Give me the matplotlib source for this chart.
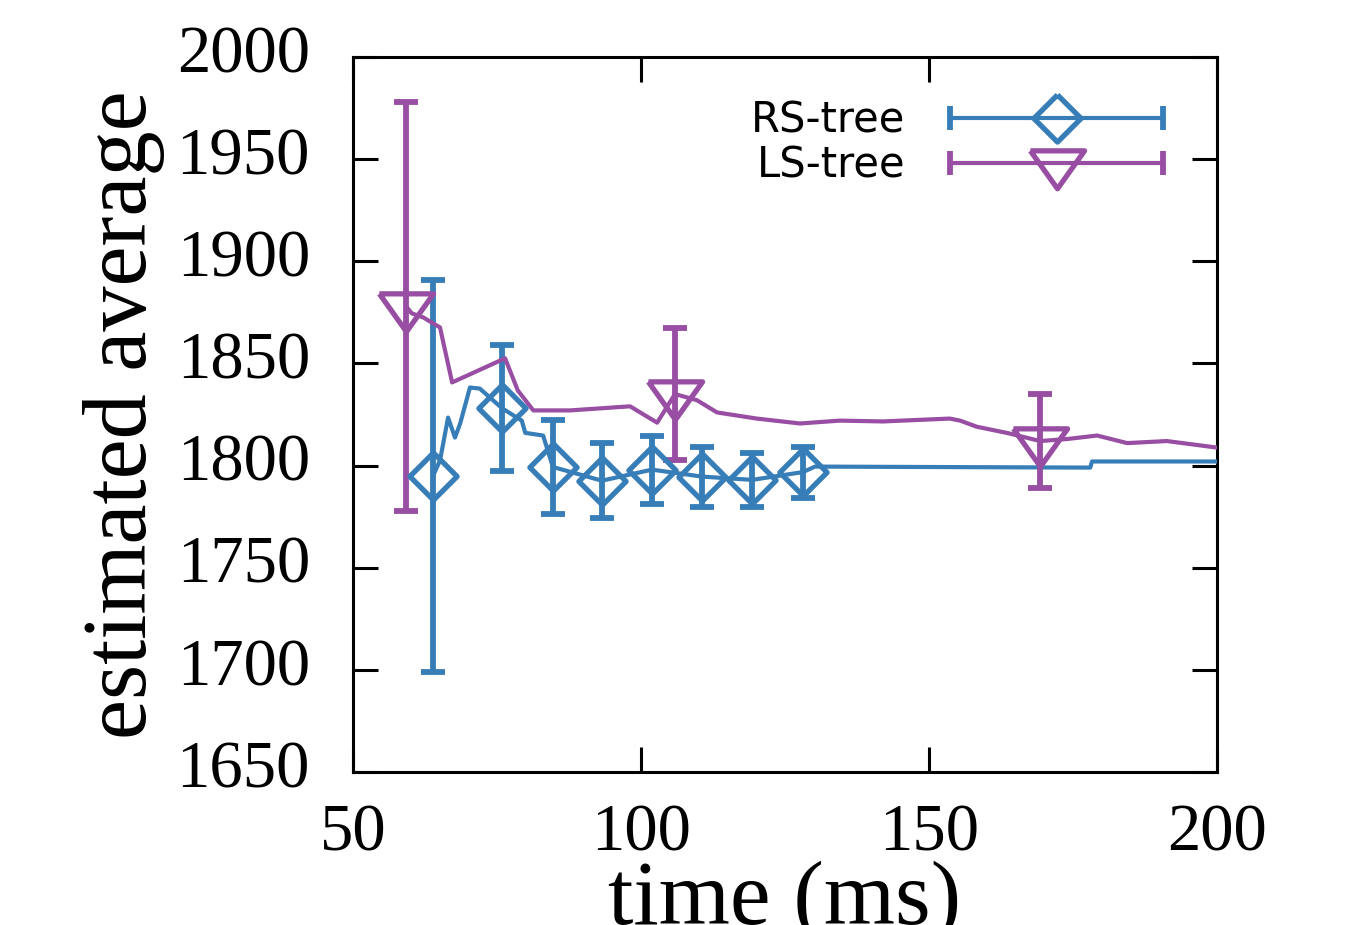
import numpy as np
import matplotlib.pyplot as plt
import matplotlib.transforms as mtransforms
from matplotlib.lines import Line2D
from matplotlib.legend_handler import HandlerLine2D, HandlerTuple

# RS-tree: running estimate (line) and the points with error bars
rs_t = [63.9, 65.1, 66.5, 67.7, 68.6, 70.3, 72.0, 75.9, 79.3, 79.9, 83.0,
        84.7, 93.2, 101.9, 110.6, 119.3, 128.1, 130.2, 178.0, 178.3, 200.0]
rs_avg = [1795, 1802.5, 1823.5, 1813.7, 1820.6, 1838.2, 1837.7, 1828, 1822,
          1816, 1814.7, 1799.3, 1792.6, 1798, 1794.6, 1793, 1796.8, 1799.5,
          1799, 1802, 1802]
rs_mt = [63.9, 75.9, 84.7, 93.2, 101.9, 110.6, 119.3, 128.1]
rs_mavg = [1795, 1828, 1799.3, 1792.6, 1798, 1794.6, 1793, 1796.8]
rs_err = [96, 30.9, 22.8, 18.4, 16.7, 14.7, 13.2, 12.5]

# LS-tree
ls_t = [59.2, 60.2, 62.2, 65.1, 67.2, 76.4, 78.6, 81.3, 87.7, 98.1, 102.8,
        105.9, 109.7, 113.2, 120.1, 127.6, 134.5, 142.0, 153.6, 155.4, 158.3,
        163.5, 169.3, 174.0, 179.2, 184.4, 191.3, 200.0]
ls_avg = [1878, 1874.5, 1872.5, 1867.6, 1840.7, 1852.5, 1836.8, 1827, 1827,
          1829, 1821, 1835, 1832, 1826, 1823, 1820.6, 1822, 1821.6, 1823,
          1822, 1819, 1816, 1812, 1813, 1814.7, 1811, 1812, 1808.8]
ls_mt = [59.2, 105.9, 169.3]
ls_mavg = [1878, 1835, 1812]
ls_err = [100, 32.4, 23]

blue = '#377eb8'
purple = '#984ea3'
LW = 3.0      # data line width
EW = 4.2      # error bar width
MEW = 3.8     # marker edge width

# gnuplot style markers (triangle centred on its centroid)
diamond = [(0, 1), (1, 0), (0, -1), (-1, 0), (0, 1)]
tri_down = [(-1, 0.467), (1, 0.467), (0, -0.933), (-1, 0.467)]

plt.rcParams['font.family'] = ['Liberation Serif', 'DejaVu Serif']

fig = plt.figure(figsize=(13.48, 9.25), dpi=100)
ax = fig.add_axes([0.2619, 0.1654, 0.6409, 0.7730])

ax.plot(rs_t, rs_avg, color=blue, lw=LW, zorder=3)
ax.errorbar(rs_mt, rs_mavg, yerr=rs_err, fmt='none', ecolor=blue,
            elinewidth=EW, capsize=8.3, capthick=EW, zorder=3)
ax.plot(rs_mt, rs_mavg, ls='none', marker=diamond, ms=34, mfc='none',
        mec=blue, mew=MEW, zorder=4)

ax.plot(ls_t, ls_avg, color=purple, lw=LW, zorder=3)
ax.errorbar(ls_mt, ls_mavg, yerr=ls_err, fmt='none', ecolor=purple,
            elinewidth=EW, capsize=8.3, capthick=EW, zorder=3)
ax.plot(ls_mt, ls_mavg, ls='none', marker=tri_down, ms=39, mfc='none',
        mec=purple, mew=MEW, zorder=4)

ax.set_xlim(50, 200)
ax.set_ylim(1650, 2000)
ax.set_xticks([50, 100, 150, 200])
ax.set_yticks(np.arange(1650, 2001, 50))
ax.tick_params(direction='in', length=18, width=2.2, top=True, right=True,
               labelsize=48)
ax.tick_params(axis='y', pad=31)
ax.tick_params(axis='x', pad=23)
for s in ax.spines.values():
    s.set_linewidth(2.2)

# y tick labels sit a little above their ticks, as in gnuplot
shift = mtransforms.ScaledTranslation(0, 6 / 72, fig.dpi_scale_trans)
for lab in ax.get_yticklabels():
    lab.set_transform(lab.get_transform() + shift)

ax.set_xlabel('time (ms)', fontsize=66)
ax.set_ylabel('estimated average', fontsize=65)
ax.xaxis.set_label_coords(0.5, -0.124)
ax.yaxis.set_label_coords(-0.2176, 0.5)

# legend: horizontal bar with end caps plus the marker
rs_caps = Line2D([], [], color=blue, lw=LW, marker='|', ms=17, mew=EW)
rs_mark = Line2D([], [], ls='none', marker=diamond, ms=34, mfc='none',
                 mec=blue, mew=MEW)
ls_caps = Line2D([], [], color=purple, lw=LW, marker='|', ms=17, mew=EW)
ls_mark = Line2D([], [], ls='none', marker=tri_down, ms=39, mfc='none',
                 mec=purple, mew=MEW)
hmap = {rs_caps: HandlerLine2D(numpoints=2, marker_pad=0),
        ls_caps: HandlerLine2D(numpoints=2, marker_pad=0),
        rs_mark: HandlerLine2D(numpoints=1),
        ls_mark: HandlerLine2D(numpoints=1),
        tuple: HandlerTuple(ndivide=1, pad=0)}
ax.legend([(rs_caps, rs_mark), (ls_caps, ls_mark)], ['RS-tree', 'LS-tree'],
          handler_map=hmap, loc='upper right', bbox_to_anchor=(0.9375, 0.94),
          frameon=False, markerfirst=False, borderpad=0, borderaxespad=0,
          handlelength=5.1, handletextpad=1.08, labelspacing=0.07,
          prop={'family': 'DejaVu Sans', 'size': 30})

fig.savefig('out.png', dpi=100)
